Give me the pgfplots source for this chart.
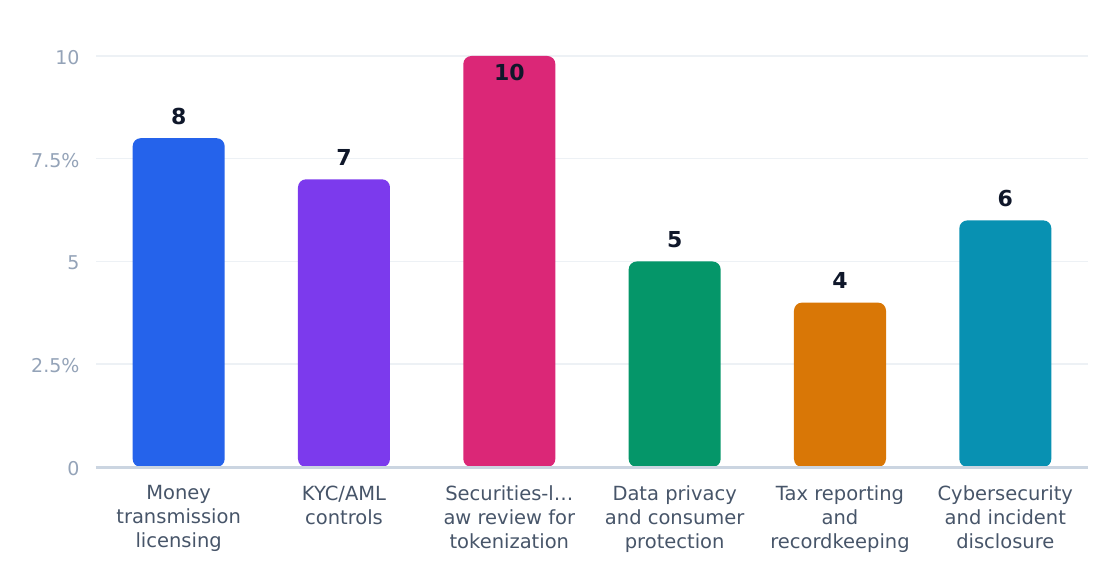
\documentclass[border=0pt]{standalone}
\usepackage{pgfplots}
\pgfplotsset{compat=1.18}
\usepackage{fontspec}
\setmainfont{DejaVu Sans}

\definecolor{cBlue}{HTML}{2563EB}
\definecolor{cPurple}{HTML}{7C3AED}
\definecolor{cPink}{HTML}{DB2777}
\definecolor{cGreen}{HTML}{059669}
\definecolor{cOrange}{HTML}{D97706}
\definecolor{cCyan}{HTML}{0891B2}
\definecolor{tickgray}{HTML}{94A3B8}
\definecolor{labgray}{HTML}{475569}
\definecolor{valdark}{HTML}{0F172A}
\definecolor{gridc}{HTML}{EDF1F5}
\definecolor{basec}{HTML}{CBD5E1}

\begin{document}
\begin{tikzpicture}
\path[use as bounding box] (-96pt,-117pt) rectangle (1024pt,467pt);
\begin{axis}[
  scale only axis,
  width=992pt, height=411pt,
  xmin=-0.5, xmax=5.5,
  ymin=0, ymax=10,
  axis line style={draw=none},
  /pgf/number format/assume math mode=true,
  ytick={0,2.5,5,7.5,10},
  yticklabels={0,2.5\%,5,7.5\%,10},
  ymajorgrids=true,
  grid style={gridc, line width=1.5pt},
  major tick length=0pt,
  yticklabel style={font=\fontsize{19}{23}\selectfont, text=tickgray, xshift=-13pt, yshift=-1.5pt},
  xtick={0,1,2,3,4,5},
  xticklabels={
    Money\\transmission\\licensing,
    KYC/AML\\controls,
    Securities-l…\\aw review for\\tokenization,
    Data privacy\\and consumer\\protection,
    Tax reporting\\and\\recordkeeping,
    Cybersecurity\\and incident\\disclosure},
  xticklabel style={font=\fontsize{19.5}{24}\selectfont, text=labgray, align=center, yshift=-15pt},
  ybar, bar width=92pt, bar shift=0pt,
  nodes near coords,
  every node near coord/.append style={font=\fontsize{22}{26}\selectfont\bfseries, text=valdark, anchor=center, yshift=22pt},
  clip=false,
]
\addplot[fill=cBlue, draw=none, rounded corners=8pt] coordinates {(0,8)};
\addplot[fill=cPurple, draw=none, rounded corners=8pt] coordinates {(1,7)};
\addplot[fill=cPink, draw=none, rounded corners=8pt,
  every node near coord/.append style={yshift=-38pt}] coordinates {(2,10)};
\addplot[fill=cGreen, draw=none, rounded corners=8pt] coordinates {(3,5)};
\addplot[fill=cOrange, draw=none, rounded corners=8pt] coordinates {(4,4)};
\addplot[fill=cCyan, draw=none, rounded corners=8pt] coordinates {(5,6)};
\draw[basec, line width=3pt] (axis cs:-0.5,0) -- (axis cs:5.5,0);
\end{axis}
\end{tikzpicture}
\end{document}
